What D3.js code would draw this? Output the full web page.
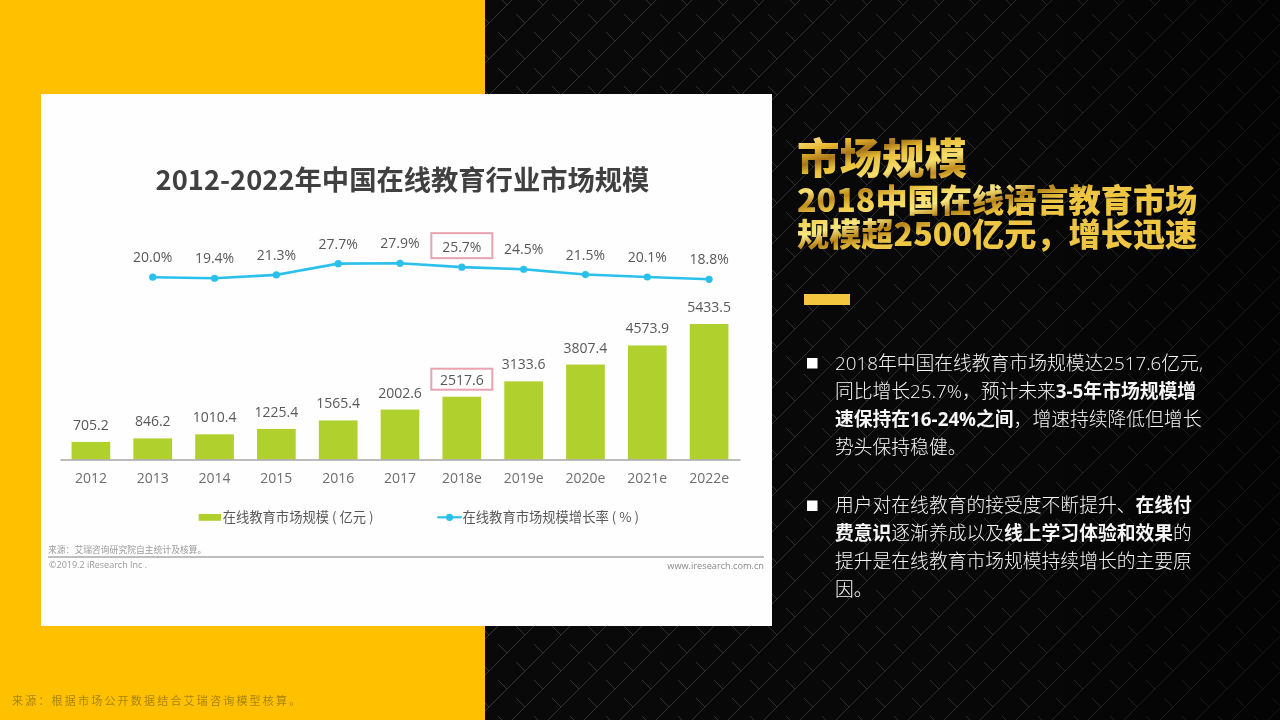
<!DOCTYPE html>
<html lang="zh">
<head>
<meta charset="utf-8">
<script src="https://cdn.jsdelivr.net/npm/d3@7/dist/d3.min.js"></script>
<style>
  html, body { margin: 0; padding: 0; background: #000; overflow: hidden; }
  svg { display: block; }
  text { font-family: "Noto Sans CJK SC", sans-serif; }
  .num { font-family: "Open Sans", "Noto Sans CJK SC", sans-serif; }
  .body-line { font-family: "Open Sans", "Noto Sans CJK SC", sans-serif; }
</style>
</head>
<body>
<svg id="slide" width="1280" height="720"></svg>
<script>
// ── Data ──────────────────────────────────────────────────────────────────
const years = ["2012", "2013", "2014", "2015", "2016", "2017", "2018e", "2019e", "2020e", "2021e", "2022e"];
const marketSize = [705.2, 846.2, 1010.4, 1225.4, 1565.4, 2002.6, 2517.6, 3133.6, 3807.4, 4573.9, 5433.5];
// growth starts at 2013, there is no rate for the first year
const growthYears = ["2013", "2014", "2015", "2016", "2017", "2018e", "2019e", "2020e", "2021e", "2022e"];
const growthRate = [20.0, 19.4, 21.3, 27.7, 27.9, 25.7, 24.5, 21.5, 20.1, 18.8];
const highlightYear = "2018e";

const chartTitle = "2012-2022年中国在线教育行业市场规模";
const legendBar = "在线教育市场规模 ( 亿元 )";
const legendLine = "在线教育市场规模增长率 ( % )";
const sourceNote = "来源：艾瑞咨询研究院自主统计及核算。";
const copyright = "©2019.2 iResearch Inc .";
const website = "www.iresearch.com.cn";
const footerNote = "来源：根据市场公开数据结合艾瑞咨询模型核算。";
const heading = ["市场规模", "2018中国在线语言教育市场", "规模超2500亿元，增长迅速"];

// each line is a list of [text, isBold]
const bullets = [
  [
    [["2018年中国在线教育市场规模达2517.6亿元,", false]],
    [["同比增长25.7%，预计未来", false], ["3-5年市场规模增", true]],
    [["速保持在16-24%之间", true], ["，增速持续降低但增长", false]],
    [["势头保持稳健。", false]],
  ],
  [
    [["用户对在线教育的接受度不断提升、", false], ["在线付", true]],
    [["费意识", true], ["逐渐养成以及", false], ["线上学习体验和效果", true], ["的", false]],
    [["提升是在线教育市场规模持续增长的主要原", false]],
    [["因。", false]],
  ],
];

// ── Setup ─────────────────────────────────────────────────────────────────
const svg = d3.select("#slide");
const defs = svg.append("defs");

// lattice texture of the dark panel
const tile = defs.append("pattern")
  .attr("id", "lattice")
  .attr("patternUnits", "userSpaceOnUse")
  .attr("width", 36)
  .attr("height", 36)
  .attr("patternTransform", "translate(3,5)");
const vMark = ([a, b]) => `M${a - 9} ${b - 9}L${a} ${b}L${a + 25} ${b - 25}`;
tile.append("path")
  .attr("d", [[0, 0], [36, 0], [0, 36], [36, 36], [18, 18], [54, 18], [18, 54], [54, 54]].map(vMark).join(""))
  .attr("stroke", "#3a3a3a")
  .attr("stroke-width", 1)
  .attr("fill", "none");

const fade = defs.append("linearGradient").attr("id", "panelFade");
fade.append("stop").attr("offset", "0").attr("stop-color", "#000").attr("stop-opacity", 0.1);
fade.append("stop").attr("offset", "0.6").attr("stop-color", "#000").attr("stop-opacity", 0.25);
fade.append("stop").attr("offset", "1").attr("stop-color", "#000").attr("stop-opacity", 0.65);

// gold foil fill for the heading
const gold = defs.append("linearGradient")
  .attr("id", "gold")
  .attr("gradientUnits", "userSpaceOnUse")
  .attr("x1", 800).attr("y1", 135)
  .attr("x2", 830).attr("y2", 255);
[["0", "#fdf0a0"], ["0.14", "#e8b62e"], ["0.24", "#a8741a"], ["0.32", "#e8bf36"],
 ["0.46", "#f6de70"], ["0.56", "#c08c1c"], ["0.66", "#f0cc4a"], ["0.8", "#f8e680"],
 ["0.9", "#b88418"], ["1", "#eec644"]].forEach(([o, c]) => {
  gold.append("stop").attr("offset", o).attr("stop-color", c);
});

defs.append("filter").attr("id", "soft")
  .append("feGaussianBlur").attr("stdDeviation", 0.35);

// ── Background ────────────────────────────────────────────────────────────
svg.append("rect").attr("width", 485).attr("height", 720).attr("fill", "#ffc000");
svg.append("rect").attr("x", 485).attr("width", 795).attr("height", 720).attr("fill", "#0a0a0a");
svg.append("rect").attr("x", 485).attr("width", 795).attr("height", 720).attr("fill", "url(#lattice)");
svg.append("rect").attr("x", 485).attr("width", 795).attr("height", 720).attr("fill", "url(#panelFade)");
svg.append("rect").attr("x", 41).attr("y", 94).attr("width", 731).attr("height", 532).attr("fill", "#fefefe");

// ── Chart ─────────────────────────────────────────────────────────────────
const chart = svg.append("g").attr("filter", "url(#soft)");
const textGrey = "#595959";
const boxColor = "#e8a3b0";
const lineColor = "#2cc0ec";

const x = d3.scaleBand().domain(years).range([60, 740]).paddingInner(0.374).paddingOuter(0.187);
const ySize = d3.scaleLinear().domain([0, 5433.5]).range([459.5, 324]);
const yRate = d3.scaleLinear().domain([18, 28]).range([280.7, 263.1]);
const cx = (d) => x(d) + x.bandwidth() / 2;

chart.append("text")
  .attr("x", 402.5).attr("y", 190)
  .attr("text-anchor", "middle")
  .attr("font-size", 27.3).attr("font-weight", 700)
  .attr("fill", "#404040")
  .text(chartTitle);

// bars
chart.selectAll(".bar")
  .data(years)
  .join("rect")
  .attr("class", "bar")
  .attr("x", (d) => x(d))
  .attr("width", x.bandwidth())
  .attr("y", (d, i) => ySize(marketSize[i]))
  .attr("height", (d, i) => ySize(0) - ySize(marketSize[i]))
  .attr("fill", "#b0d02f");

chart.selectAll(".bar-label")
  .data(years)
  .join("text")
  .attr("class", "bar-label num")
  .attr("x", cx)
  .attr("y", (d, i) => ySize(marketSize[i]) - 12)
  .attr("text-anchor", "middle")
  .attr("font-size", 14)
  .attr("fill", textGrey)
  .text((d, i) => marketSize[i].toFixed(1));

// x axis
const axis = chart.append("g")
  .attr("transform", `translate(0,${ySize(0)})`)
  .call(d3.axisBottom(x).tickSize(0).tickPadding(14));
axis.select(".domain").attr("stroke", "#a6a6a6").attr("stroke-width", 1.5);
axis.selectAll("text")
  .attr("class", "num")
  .attr("font-size", 14)
  .attr("fill", "#6e6e6e");

// growth line
const line = d3.line()
  .x((d, i) => cx(growthYears[i]))
  .y((d) => yRate(d));

chart.append("path")
  .datum(growthRate)
  .attr("d", line)
  .attr("fill", "none")
  .attr("stroke", lineColor)
  .attr("stroke-width", 2.6);

chart.selectAll(".rate-dot")
  .data(growthRate)
  .join("circle")
  .attr("class", "rate-dot")
  .attr("cx", (d, i) => cx(growthYears[i]))
  .attr("cy", (d) => yRate(d))
  .attr("r", 3.6)
  .attr("fill", lineColor);

chart.selectAll(".rate-label")
  .data(growthRate)
  .join("text")
  .attr("class", "rate-label num")
  .attr("x", (d, i) => cx(growthYears[i]))
  .attr("y", (d) => yRate(d) - 15)
  .attr("text-anchor", "middle")
  .attr("font-size", 14)
  .attr("fill", textGrey)
  .text((d) => d.toFixed(1) + "%");

// highlight boxes around the 2018e labels
const hiRate = growthRate[growthYears.indexOf(highlightYear)];
const hiSize = marketSize[years.indexOf(highlightYear)];
chart.selectAll(".hi-box")
  .data([
    { top: yRate(hiRate) - 34, height: 25 },
    { top: ySize(hiSize) - 28, height: 21 },
  ])
  .join("rect")
  .attr("class", "hi-box")
  .attr("x", cx(highlightYear) - 30.5)
  .attr("width", 61)
  .attr("y", (d) => d.top)
  .attr("height", (d) => d.height)
  .attr("fill", "none")
  .attr("stroke", boxColor)
  .attr("stroke-width", 2);

// legend
chart.append("rect")
  .attr("x", 198.7).attr("y", 514)
  .attr("width", 22.3).attr("height", 6.8)
  .attr("fill", "#b0d02f");
chart.append("text")
  .attr("x", 222.7).attr("y", 522.3)
  .attr("font-size", 13.3)
  .attr("fill", textGrey)
  .text(legendBar);
chart.append("line")
  .attr("x1", 437.3).attr("x2", 461.7)
  .attr("y1", 517.3).attr("y2", 517.3)
  .attr("stroke", lineColor)
  .attr("stroke-width", 2.2);
chart.append("circle")
  .attr("cx", 449.5).attr("cy", 517.3)
  .attr("r", 3.6)
  .attr("fill", lineColor);
chart.append("text")
  .attr("x", 462.5).attr("y", 522.3)
  .attr("font-size", 13.3)
  .attr("fill", textGrey)
  .text(legendLine);

// source strip
chart.append("line")
  .attr("x1", 48).attr("x2", 764)
  .attr("y1", 557).attr("y2", 557)
  .attr("stroke", "#a8a8a8")
  .attr("stroke-width", 1.3);
chart.append("text")
  .attr("x", 48).attr("y", 552.5)
  .attr("font-size", 8.8)
  .attr("fill", "#9a9a9a")
  .text(sourceNote);
chart.append("text")
  .attr("class", "num")
  .attr("x", 49).attr("y", 568)
  .attr("font-size", 9)
  .attr("fill", "#9a9a9a")
  .text(copyright);
chart.append("text")
  .attr("class", "num")
  .attr("x", 764).attr("y", 568.5)
  .attr("text-anchor", "end")
  .attr("font-size", 9.2)
  .attr("fill", "#8a8a8a")
  .text(website);

// ── Footer on the yellow panel ────────────────────────────────────────────
svg.append("text")
  .attr("x", 12).attr("y", 705)
  .attr("font-size", 11)
  .attr("letter-spacing", 2.2)
  .attr("fill", "#a88410")
  .text(footerNote);

// ── Right column ──────────────────────────────────────────────────────────
svg.selectAll(".heading")
  .data(heading)
  .join("text")
  .attr("class", "heading")
  .attr("x", 797)
  .attr("y", (d, i) => [174, 212, 246][i])
  .attr("font-size", (d, i) => (i === 0 ? 42.5 : 32.2))
  .attr("font-weight", 900)
  .attr("fill", "url(#gold)")
  .text((d) => d);

svg.append("rect")
  .attr("x", 804).attr("y", 294)
  .attr("width", 46).attr("height", 11)
  .attr("fill", "#f4c63f");

const bodyX = 835;
const paragraphTops = [369.5, 512];
const lineHeight = 28;

bullets.forEach((para, p) => {
  svg.append("rect")
    .attr("x", 807).attr("y", paragraphTops[p] - 11.5)
    .attr("width", 10.5).attr("height", 10.5)
    .attr("fill", "#fff");

  para.forEach((runs, l) => {
    const row = svg.append("text")
      .attr("class", "body-line")
      .attr("x", bodyX)
      .attr("y", paragraphTops[p] + l * lineHeight)
      .attr("font-size", 18.8)
      .attr("fill", "#f6f6f6");
    runs.forEach(([txt, bold]) => {
      row.append("tspan")
        .attr("font-weight", bold ? 700 : 300)
        .text(txt);
    });
  });
});
</script>
</body>
</html>
